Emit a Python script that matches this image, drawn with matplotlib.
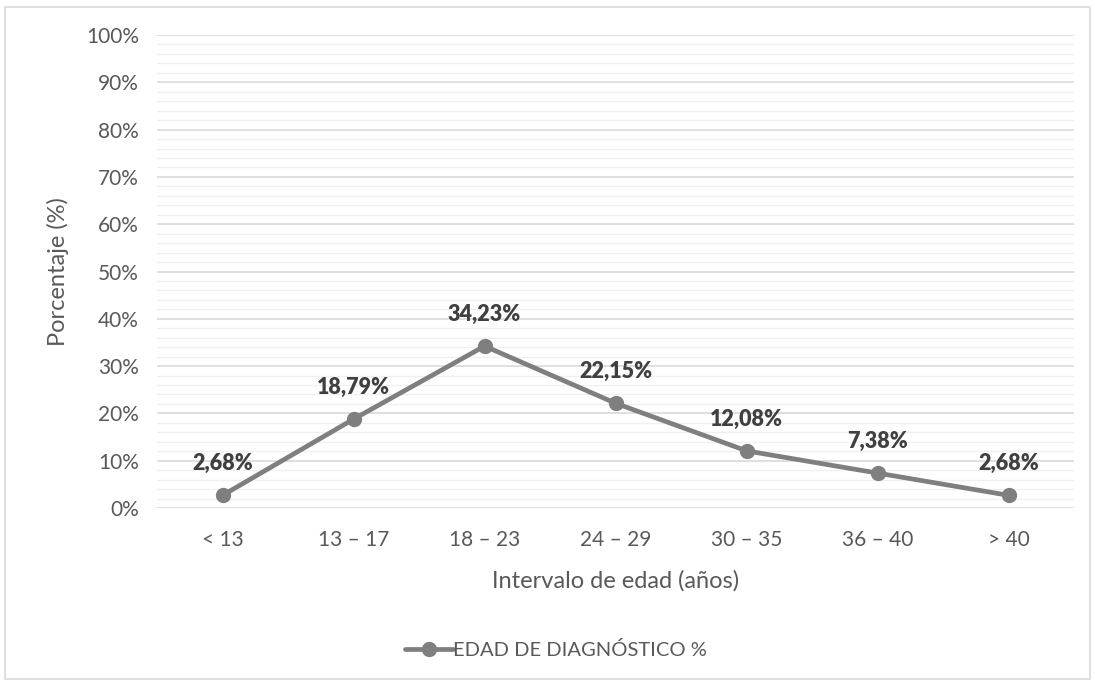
import matplotlib
matplotlib.use("Agg")
import matplotlib.pyplot as plt
from matplotlib.ticker import MultipleLocator, FuncFormatter
from matplotlib.patches import Rectangle

categorias = ["< 13", "13 – 17", "18 – 23", "24 – 29", "30 – 35", "36 – 40", "> 40"]
porcentajes = [2.68, 18.79, 34.23, 22.15, 12.08, 7.38, 2.68]
etiquetas = ["2,68%", "18,79%", "34,23%", "22,15%", "12,08%", "7,38%", "2,68%"]

plt.rcParams['font.family'] = ['Lato', 'DejaVu Sans']

gris = '#7f7f7f'
texto = '#595959'

fig = plt.figure(figsize=(10.95, 6.82), dpi=100)
ax = fig.add_axes([0.1434, 0.2551, 0.8376, 0.6936])

x = list(range(len(categorias)))
ax.plot(x, porcentajes, color=gris, linewidth=3.4, marker='o', markersize=10,
        label='EDAD DE DIAGNÓSTICO %', solid_capstyle='round')

for xi, yi, t in zip(x, porcentajes, etiquetas):
    ax.annotate(t, (xi, yi), xytext=(0, 23), textcoords='offset points',
                ha='center', va='center', fontsize=15.5, fontweight='heavy', color='#404040')

ax.set_xlim(-0.5, len(categorias) - 0.5)
ax.set_ylim(0, 100)
ax.set_xticks(x)
ax.set_xticklabels(categorias)
ax.yaxis.set_major_locator(MultipleLocator(10))
ax.yaxis.set_minor_locator(MultipleLocator(2))
ax.yaxis.set_major_formatter(FuncFormatter(lambda v, p: f"{v:.0f}%"))
ax.grid(True, which='major', axis='y', color='#d9d9d9', linewidth=1.2)
ax.grid(True, which='minor', axis='y', color='#f0f0f0', linewidth=1.0)
ax.set_axisbelow(True)
ax.tick_params(axis='both', which='both', length=0, labelsize=15, colors=texto, pad=13)
ax.tick_params(axis='x', pad=16)
for s in ax.spines.values():
    s.set_visible(False)

ax.set_xlabel('Intervalo de edad (años)', fontsize=17, color=texto, labelpad=14)
ax.set_ylabel('Porcentaje (%)', fontsize=17, color=texto, labelpad=12)

fig.legend(loc='center', bbox_to_anchor=(0.508, 0.047), frameon=False, fontsize=14.5,
           labelcolor=texto, handlelength=2.4, handletextpad=0.0)

fig.patches.append(Rectangle((0.005, 0.005), 0.99, 0.985, transform=fig.transFigure,
                             fill=False, edgecolor='#d9d9d9', linewidth=1.2))

fig.savefig('out.png', dpi=100)
